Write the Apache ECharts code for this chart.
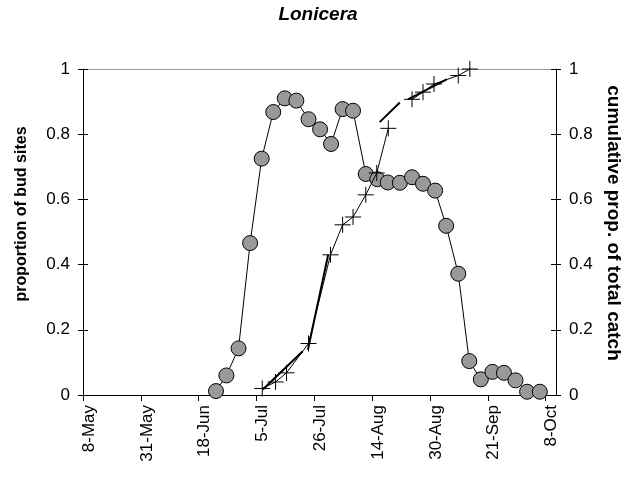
<!DOCTYPE html>
<html>
<head>
<meta charset="utf-8">
<script src="https://cdn.jsdelivr.net/npm/echarts@6/dist/echarts.min.js"></script>
<style>
html,body{margin:0;padding:0;background:#fff;}
#chart{width:626px;height:477px;}
</style>
</head>
<body>
<div id="chart"></div>
<script>
// x positions are in tick-index units (0 = 8-May tick, 8 = 8-Oct tick)
var tickLabels = ['8-May','31-May','18-Jun','5-Jul','26-Jul','14-Aug','30-Aug','21-Sep','8-Oct'];
var yTicks = [0, 0.2, 0.4, 0.6, 0.8, 1];

// proportion of bud sites (circles)
var budX = [2.30,2.48,2.69,2.89,3.09,3.29,3.49,3.69,3.90,4.10,4.29,4.49,4.67,4.89,5.09,5.27,5.48,5.69,5.88,6.09,6.28,6.49,6.68,6.88,7.08,7.28,7.48,7.68,7.90];
var budY = [0.012,0.060,0.143,0.466,0.725,0.868,0.910,0.903,0.846,0.815,0.770,0.877,0.872,0.678,0.662,0.652,0.651,0.668,0.648,0.627,0.519,0.372,0.104,0.048,0.071,0.068,0.045,0.010,0.010];

// cumulative proportion of total catch (crosses), first run
var catchX1 = [3.10,3.33,3.52,3.90,4.28,4.49,4.67,4.89,5.08,5.28];
var catchY1 = [0.020,0.040,0.068,0.158,0.430,0.522,0.546,0.614,0.681,0.818];
// second run
var catchX2 = [5.69,5.88,6.07,6.49,6.69];
var catchY2 = [0.907,0.929,0.954,0.980,1.000];

// heavier connecting segments (null = break)
var segX = [3.11,3.80,null,3.89,4.24,null,5.13,5.48,null,5.62,6.29];
var segY = [0.017,0.134,null,0.139,0.430,null,0.837,0.897,null,0.907,0.968];

var FONT = 'Arial, "Liberation Sans", sans-serif';

function pairs(xs, ys) {
  return xs.map(function (x, i) {
    return (x === null || ys[i] === null) ? ['-', '-'] : [x, ys[i]];
  });
}

var chart = echarts.init(document.getElementById('chart'), null, {renderer: 'canvas'});

var yCommon = {type: 'value', min: 0, max: 1, interval: 0.2, splitLine: {show: false}};
function yFmt(v) { return String(Math.round(v * 10) / 10); }

var option = {
  backgroundColor: '#ffffff',
  animation: false,
  grid: {left: 83, right: 70, top: 69, bottom: 82, containLabel: false},
  graphic: [
    {type: 'text', x: 318, y: 15, style: {text: 'Lonicera', font: 'italic bold 19px ' + FONT, fill: '#000', textAlign: 'center', textVerticalAlign: 'middle', align: 'center', verticalAlign: 'middle'}},
    {type: 'text', x: 22, y: 214, rotation: Math.PI / 2, style: {text: 'proportion of bud sites', font: 'bold 16px ' + FONT, fill: '#000', textAlign: 'center', textVerticalAlign: 'middle', align: 'center', verticalAlign: 'middle'}},
    {type: 'text', x: 613, y: 223, rotation: -Math.PI / 2, style: {text: 'cumulative prop. of total catch', font: 'bold 19px ' + FONT, fill: '#000', textAlign: 'center', textVerticalAlign: 'middle', align: 'center', verticalAlign: 'middle'}}
  ],
  xAxis: [
    {
      type: 'value', min: 0, max: 8.18, interval: 1, position: 'bottom',
      axisLine: {show: true, lineStyle: {color: '#000', width: 1}},
      axisTick: {show: true, length: 6, lineStyle: {color: '#000'}, customValues: [0,1,2,3,4,5,6,7,8]},
      axisLabel: {
        show: true, rotate: 90, margin: 10, fontFamily: FONT, fontSize: 17, color: '#000',
        verticalAlign: 'top', lineHeight: 12,
        customValues: [0,1,2,3,4,5,6,7,8],
        formatter: function (v) { var i = Math.round(v); return Math.abs(v - i) < 1e-6 ? (tickLabels[i] || '') : ''; }
      },
      splitLine: {show: false}
    },
    {
      type: 'value', min: 0, max: 8.18, position: 'top',
      axisLine: {show: true, onZero: false, lineStyle: {color: '#9a9a9a', width: 1}},
      axisTick: {show: false}, axisLabel: {show: false}, splitLine: {show: false}
    }
  ],
  yAxis: [
    Object.assign({}, yCommon, {
      position: 'left',
      axisLine: {show: true, lineStyle: {color: '#000'}},
      axisTick: {show: true, length: 5, lineStyle: {color: '#000'}},
      axisLabel: {show: true, margin: 13, fontFamily: FONT, fontSize: 17, color: '#000', formatter: yFmt}
    }),
    Object.assign({}, yCommon, {
      position: 'left',
      axisLine: {show: false},
      axisTick: {show: true, inside: true, length: 5, lineStyle: {color: '#000'}},
      axisLabel: {show: false}
    }),
    Object.assign({}, yCommon, {
      position: 'right',
      axisLine: {show: true, lineStyle: {color: '#000'}},
      axisTick: {show: true, length: 5, lineStyle: {color: '#000'}},
      axisLabel: {show: true, margin: 13, fontFamily: FONT, fontSize: 17, color: '#000', formatter: yFmt}
    }),
    Object.assign({}, yCommon, {
      position: 'right',
      axisLine: {show: false},
      axisTick: {show: true, inside: true, length: 5, lineStyle: {color: '#000'}},
      axisLabel: {show: false}
    })
  ],
  series: [
    {
      name: 'bud sites', type: 'line', xAxisIndex: 0, yAxisIndex: 0,
      data: pairs(budX, budY),
      symbol: 'circle', symbolSize: 15,
      itemStyle: {color: '#999999', borderColor: '#000', borderWidth: 1},
      lineStyle: {color: '#000', width: 1},
      z: 2
    },
    {
      name: 'catch 1', type: 'line', xAxisIndex: 0, yAxisIndex: 2,
      data: pairs(catchX1, catchY1),
      symbol: 'path://M0,8L16,8M8,0L8,16', symbolSize: 16, symbolKeepAspect: true,
      itemStyle: {color: 'rgba(0,0,0,0)', borderColor: '#000', borderWidth: 1},
      lineStyle: {color: '#000', width: 1},
      z: 3
    },
    {
      name: 'catch 2', type: 'line', xAxisIndex: 0, yAxisIndex: 2,
      data: pairs(catchX2, catchY2),
      symbol: 'path://M0,8L16,8M8,0L8,16', symbolSize: 16, symbolKeepAspect: true,
      itemStyle: {color: 'rgba(0,0,0,0)', borderColor: '#000', borderWidth: 1},
      lineStyle: {color: '#000', width: 1},
      z: 3
    },
    {
      name: 'catch segments', type: 'line', xAxisIndex: 0, yAxisIndex: 2,
      data: pairs(segX, segY),
      connectNulls: false, showSymbol: false, symbol: 'none',
      lineStyle: {color: '#000', width: 2},
      z: 4
    }
  ]
};
chart.setOption(option);
</script>
</body>
</html>
